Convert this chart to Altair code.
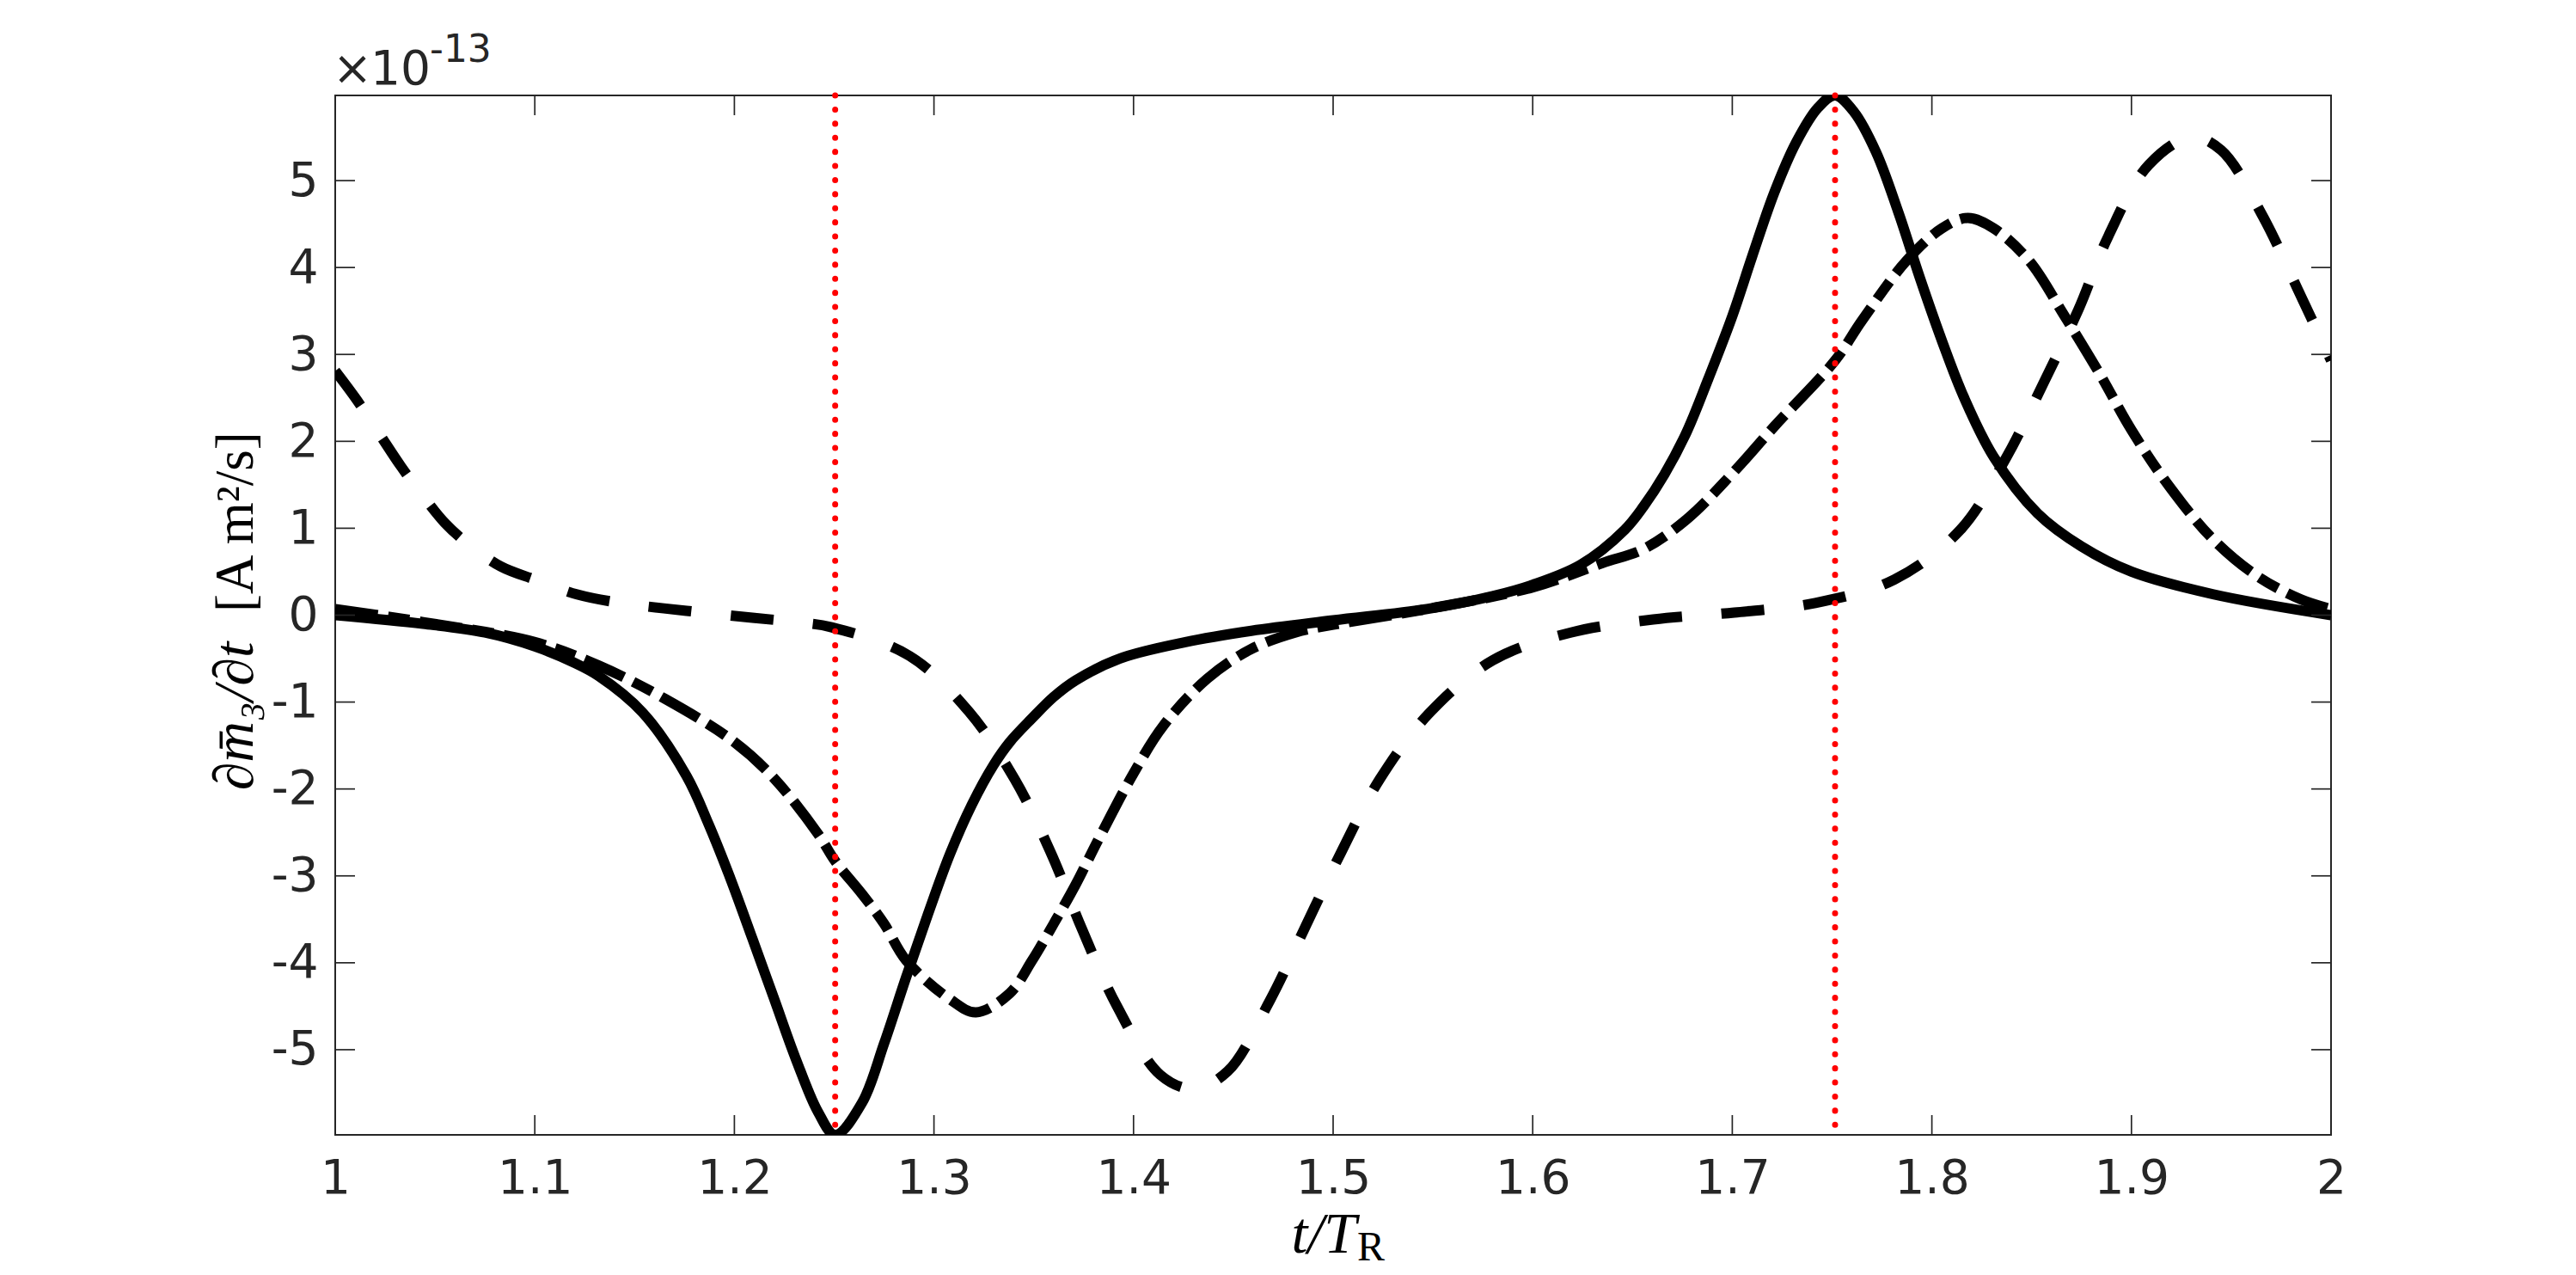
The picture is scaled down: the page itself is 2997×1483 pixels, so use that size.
import altair as alt
import pandas as pd

# ---- data (values in units of 1e-13 A m^2/s) ----
t_solid = [1.0, 1.044, 1.075, 1.1, 1.12, 1.132, 1.154, 1.176, 1.187, 1.198, 1.209, 1.22, 1.231, 1.242, 1.2505,
           1.264, 1.275, 1.286, 1.297, 1.308, 1.319, 1.33, 1.338, 1.349, 1.36, 1.371, 1.393, 1.426, 1.459,
           1.5, 1.547, 1.58, 1.6, 1.624, 1.646, 1.6555, 1.666, 1.677, 1.688, 1.7, 1.71, 1.721, 1.732, 1.743,
           1.7515, 1.761, 1.772, 1.783, 1.794, 1.805, 1.816, 1.831, 1.853, 1.875, 1.9, 1.941, 2.0]
v_solid = [0.0, -0.10, -0.20, -0.36, -0.55, -0.70, -1.12, -1.85, -2.40, -3.03, -3.72, -4.42, -5.12, -5.72, -5.98,
           -5.61, -4.93, -4.17, -3.44, -2.75, -2.18, -1.72, -1.46, -1.19, -0.94, -0.75, -0.50, -0.31, -0.18,
           -0.06, 0.07, 0.22, 0.35, 0.58, 0.98, 1.25, 1.62, 2.10, 2.72, 3.44, 4.13, 4.86, 5.44, 5.84,
           5.98, 5.79, 5.33, 4.65, 3.88, 3.16, 2.51, 1.82, 1.17, 0.79, 0.50, 0.24, 0.0]

t_dashdot = [1.0, 1.044, 1.1, 1.132, 1.165, 1.2, 1.22, 1.242, 1.2505, 1.264, 1.275, 1.286, 1.308, 1.321,
             1.338, 1.349, 1.36, 1.371, 1.382, 1.4, 1.415, 1.437, 1.459, 1.481, 1.5, 1.547, 1.6, 1.635,
             1.6555, 1.677, 1.7, 1.721, 1.7515, 1.765, 1.787, 1.805, 1.818, 1.831, 1.849, 1.866, 1.884,
             1.9, 1.919, 1.941, 1.963, 1.985, 2.0]
v_dashdot = [0.07, -0.08, -0.31, -0.58, -0.96, -1.46, -1.88, -2.52, -2.83, -3.21, -3.55, -3.97, -4.42, -4.57,
             -4.35, -3.98, -3.55, -3.10, -2.60, -1.82, -1.27, -0.73, -0.39, -0.20, -0.11, 0.07, 0.32, 0.60,
             0.76, 1.10, 1.63, 2.17, 2.93, 3.39, 4.07, 4.45, 4.57, 4.45, 4.07, 3.46, 2.78,
             2.13, 1.48, 0.87, 0.45, 0.18, 0.07]

t_dashed = [1.0, 1.011, 1.022, 1.033, 1.044, 1.055, 1.066, 1.083, 1.1, 1.121, 1.143, 1.176, 1.209, 1.231,
            1.2487, 1.2878, 1.3175, 1.3405, 1.3585, 1.3745, 1.3915, 1.4134, 1.43, 1.4471, 1.4684, 1.486,
            1.5042, 1.5233, 1.5481, 1.58, 1.6191, 1.6604, 1.701, 1.7416, 1.7812, 1.8142, 1.8372, 1.8555,
            1.8735, 1.8884, 1.9086, 1.93, 1.945, 1.9658, 1.9833, 2.0]
v_dashed = [2.81, 2.47, 2.09, 1.71, 1.37, 1.06, 0.83, 0.56, 0.41, 0.24, 0.14, 0.05, -0.03, -0.08,
            -0.14, -0.47, -1.11, -1.89, -2.73, -3.63, -4.49, -5.29, -5.45, -5.25, -4.43, -3.59,
            -2.72, -1.89, -1.13, -0.52, -0.20, -0.05, 0.03, 0.14, 0.41, 0.98, 1.81, 2.65,
            3.52, 4.36, 5.18, 5.50, 5.35, 4.59, 3.75, 2.93]

markers_t = [1.2505, 1.7515]
x_ticks = [1.0, 1.1, 1.2, 1.3, 1.4, 1.5, 1.6, 1.7, 1.8, 1.9, 2.0]
y_ticks = [-5, -4, -3, -2, -1, 0, 1, 2, 3, 4, 5]
y_domain = [-5.98, 5.98]
x_domain = [1.0, 2.0]

W, H = 2322, 1209
AX = "#262626"
TICK_FONT = "DejaVu Sans"
MATH_FONT = "Liberation Serif"

xs = alt.Scale(domain=x_domain, nice=False, zero=False)
ys = alt.Scale(domain=y_domain, nice=False, zero=False)

x_axis = alt.Axis(values=x_ticks, format=".1~f", labelFont=TICK_FONT, labelFontSize=55,
                  labelColor=AX, ticks=False, domain=False, grid=False, title=None,
                  labelPadding=24, labelFlush=False, labelOverlap=False, labelBound=False)
y_axis = alt.Axis(values=y_ticks,
                  labelExpr="datum.value < 0 ? '-' + format(-datum.value, 'd') : format(datum.value, 'd')",
                  labelFont=TICK_FONT, labelFontSize=55, labelColor=AX, ticks=False, domain=False,
                  grid=False, title=None, labelPadding=20, labelFlush=False, labelOverlap=False)

X = lambda: alt.X("t:Q", scale=xs, axis=x_axis)
Y = lambda: alt.Y("v:Q", scale=ys, axis=y_axis)


def curve(ts, vs, dash):
    df = pd.DataFrame({"t": ts, "v": vs})
    kw = dict(interpolate="catmull-rom", strokeWidth=12, color="black", clip=True, strokeCap="butt")
    if dash:
        kw["strokeDash"] = dash
    return alt.Chart(df).mark_line(**kw).encode(x=X(), y=Y())


base = alt.Chart(pd.DataFrame({"t": x_ticks, "v": y_ticks})).mark_point(opacity=0).encode(x=X(), y=Y())

solid = curve(t_solid, v_solid, None)
dashdot = curve(t_dashdot, v_dashdot, [50, 12, 25, 12])
dashed = curve(t_dashed, v_dashed, [50, 46])

xt = pd.DataFrame({"t": x_ticks})
yt = pd.DataFrame({"v": y_ticks})
tick_kw = dict(color=AX, strokeWidth=1.7)
xt_bottom = alt.Chart(xt).mark_rule(**tick_kw).encode(x=X(), y=alt.value(H), y2=alt.value(H - 23))
xt_top = alt.Chart(xt).mark_rule(**tick_kw).encode(x=X(), y=alt.value(0), y2=alt.value(23))
yt_left = alt.Chart(yt).mark_rule(**tick_kw).encode(y=Y(), x=alt.value(0), x2=alt.value(23))
yt_right = alt.Chart(yt).mark_rule(**tick_kw).encode(y=Y(), x=alt.value(W), x2=alt.value(W - 23))

red = alt.Chart(pd.DataFrame({"t": markers_t})).mark_rule(
    color="#FF0000", strokeWidth=7, strokeDash=[0.1, 16.3], strokeCap="round").encode(x=X())

one = pd.DataFrame({"a": [0]})


def label(text, x, y, size, font, align="left", style="normal", angle=0, color=AX):
    return alt.Chart(one).mark_text(align=align, baseline="alphabetic", font=font, fontSize=size,
                                    fontStyle=style, angle=angle, color=color).encode(
        x=alt.value(x), y=alt.value(y), text=alt.value(text))


exp_x = label("×", 43, -13, 55, TICK_FONT, align="right")
exp_a = label("10", 111, -13, 55, TICK_FONT, align="right")
exp_b = label("-13", 110, -39, 44, TICK_FONT)
xt_a = label("t/T", 1188, 1346, 68, MATH_FONT, align="right", style="italic", color="black")
xt_b = label("R", 1189, 1355, 48, MATH_FONT, color="black")
yl_a = label("∂m̄₃/∂t", -96, 722, 66, MATH_FONT, align="center", style="italic", angle=270, color="black")
yl_b = label("[A m²/s]", -96, 601, 63, MATH_FONT, align="left", angle=270, color="black")

chart = alt.layer(base, dashed, dashdot, solid, red, xt_bottom, xt_top, yt_left, yt_right,
                  exp_x, exp_a, exp_b, xt_a, xt_b, yl_a, yl_b).properties(
    width=W, height=H,
    autosize=alt.AutoSizeParams(type="none"),
    padding={"left": 382, "top": 103, "right": 250, "bottom": 155},
).configure(background="white").configure_view(stroke=AX, strokeWidth=2)

chart.save("out.html", embed_options={"renderer": "svg", "actions": False})
